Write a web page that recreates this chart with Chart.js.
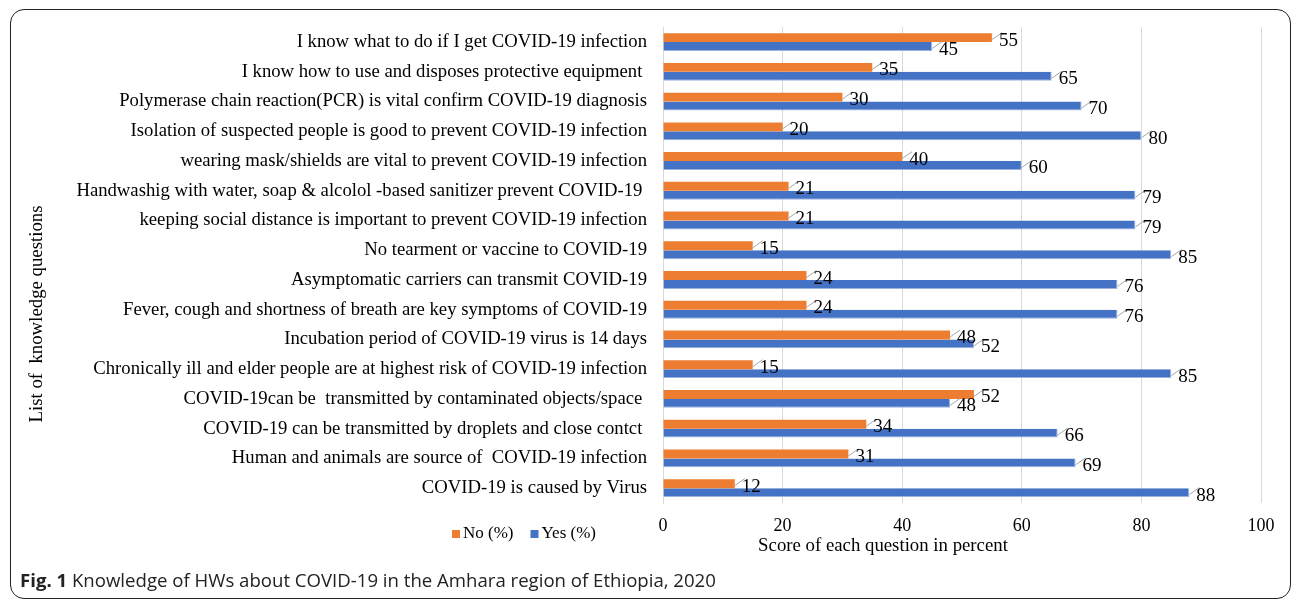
<!DOCTYPE html>
<html>
<head>
<meta charset="utf-8">
<script src="https://cdn.jsdelivr.net/npm/chart.js@4.4.1/dist/chart.umd.min.js"></script>
<style>
  body { margin: 0; background: #fff; }
  #frame {
    position: absolute; left: 10px; top: 9px; width: 1281px; height: 590px;
    box-sizing: border-box; border: 1.6px solid #222; border-radius: 14px;
  }
  #wrap { position: absolute; left: 0; top: 0; width: 1292px; height: 601px; }
  #caption {
    position: absolute; left: 20px; top: 568px; line-height: 24px;
    font-family: "Open Sans", sans-serif; font-size: 18.6px; color: #222;
  }
  #caption b { font-weight: 700; }
</style>
</head>
<body>
<div id="frame"></div>
<div id="wrap"><canvas id="chart"></canvas></div>
<div id="caption"><b>Fig. 1</b> Knowledge of HWs about COVID-19 in the Amhara region of Ethiopia, 2020</div>
<script>
  const QUESTIONS = [
    'I know what to do if I get COVID-19 infection',
    'I know how to use and disposes protective equipment ',
    'Polymerase chain reaction(PCR) is vital confirm COVID-19 diagnosis',
    'Isolation of suspected people is good to prevent COVID-19 infection',
    'wearing mask/shields are vital to prevent COVID-19 infection',
    'Handwashig with water, soap & alcolol -based sanitizer prevent COVID-19 ',
    'keeping social distance is important to prevent COVID-19 infection',
    'No tearment or vaccine to COVID-19',
    'Asymptomatic carriers can transmit COVID-19',
    'Fever, cough and shortness of breath are key symptoms of COVID-19',
    'Incubation period of COVID-19 virus is 14 days',
    'Chronically ill and elder people are at highest risk of COVID-19 infection',
    'COVID-19can be  transmitted by contaminated objects/space ',
    'COVID-19 can be transmitted by droplets and close contct ',
    'Human and animals are source of  COVID-19 infection',
    'COVID-19 is caused by Virus',
  ];
  const NO_PCT  = [55, 35, 30, 20, 40, 21, 21, 15, 24, 24, 48, 15, 52, 34, 31, 12];
  const YES_PCT = [45, 65, 70, 80, 60, 79, 79, 85, 76, 76, 52, 85, 48, 66, 69, 88];
  const X_TICKS = [0, 20, 40, 60, 80, 100];

  const SERIF = '"Liberation Serif", "Times New Roman", serif';

  // value labels with short leader lines, like the Excel original
  const valueLabels = {
    id: 'valueLabels',
    afterDatasetsDraw(chart) {
      const ctx = chart.ctx;
      ctx.save();
      ctx.font = '19px ' + SERIF;
      ctx.textBaseline = 'middle';
      ctx.textAlign = 'left';
      chart.data.datasets.forEach((ds, di) => {
        const meta = chart.getDatasetMeta(di);
        meta.data.forEach((bar, i) => {
          const x = bar.x, y = bar.y;
          ctx.strokeStyle = '#a6a6a6';
          ctx.lineWidth = 1;
          ctx.beginPath();
          ctx.moveTo(x, y + 2);
          ctx.lineTo(x + 10, y - 5);
          ctx.stroke();
          ctx.fillStyle = '#000';
          ctx.fillText(String(ds.data[i]), x + 7, y + 3);
        });
      });
      ctx.restore();
    }
  };

  // axis titles and legend placed where the original has them
  const extras = {
    id: 'extras',
    afterDraw(chart) {
      const ctx = chart.ctx;
      ctx.save();
      ctx.fillStyle = '#000';
      ctx.font = '18.8px ' + SERIF;
      ctx.textAlign = 'center';
      ctx.textBaseline = 'middle';
      ctx.fillText('Score of each question in percent', 883, 546);

      ctx.save();
      ctx.translate(37, 314);
      ctx.rotate(-Math.PI / 2);
      ctx.fillText('List of  knowledge questions', 0, 0);
      ctx.restore();

      ctx.font = '17px ' + SERIF;
      ctx.textAlign = 'left';
      let lx = 452;
      chart.data.datasets.forEach(ds => {
        ctx.fillStyle = ds.backgroundColor;
        ctx.fillRect(lx, 530, 8, 8);
        ctx.fillStyle = '#000';
        ctx.fillText(ds.label, lx + 11, 534);
        lx += 11 + ctx.measureText(ds.label).width + 17;
      });
      ctx.restore();
    }
  };

  new Chart(document.getElementById('chart'), {
    type: 'bar',
    data: {
      labels: QUESTIONS,
      datasets: [
        { label: 'No (%)', data: NO_PCT, backgroundColor: '#ED7D31' },
        { label: 'Yes (%)', data: YES_PCT, backgroundColor: '#4472C4', borderColor: '#9db3df', borderWidth: { right: 1, bottom: 1 } },
      ],
    },
    options: {
      indexAxis: 'y',
      responsive: true,
      maintainAspectRatio: false,
      animation: false,
      layout: { padding: { left: 0, right: 31, top: 25, bottom: 0 } },
      datasets: { bar: { categoryPercentage: 0.6, barPercentage: 1 } },
      plugins: { legend: { display: false }, tooltip: { enabled: false } },
      scales: {
        x: {
          min: 0, max: 100,
          afterBuildTicks: s => { s.ticks = X_TICKS.map(v => ({ value: v })); },
          afterFit: s => { s.height = 98; },
          grid: { color: '#d9d9d9', drawTicks: false },
          border: { display: false },
          ticks: { color: '#000', font: { family: SERIF, size: 18 }, padding: 12 },
        },
        y: {
          afterFit: s => { s.width = 663; },
          grid: { display: false, drawTicks: false },
          border: { display: true, color: '#d9d9d9' },
          ticks: { color: '#000', font: { family: SERIF, size: 18.7 }, padding: 16, autoSkip: false },
        },
      },
    },
    plugins: [valueLabels, extras],
  });
</script>
</body>
</html>
